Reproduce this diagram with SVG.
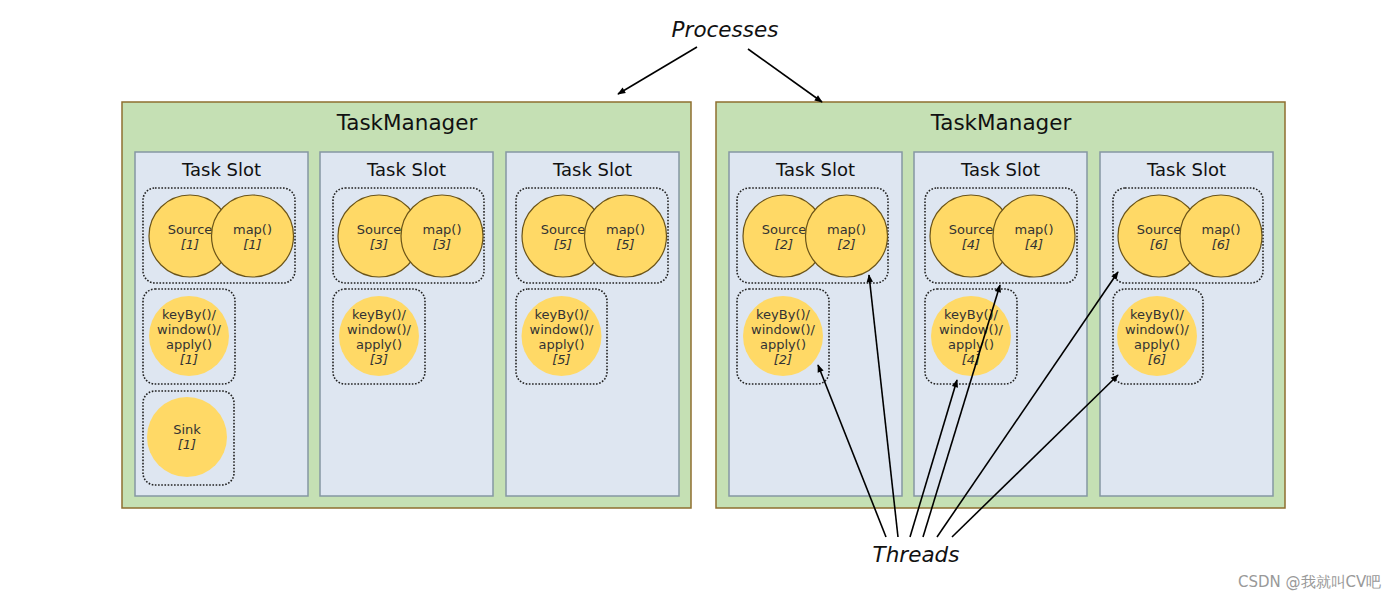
<svg xmlns="http://www.w3.org/2000/svg" width="1400" height="597" viewBox="0 0 1400 597">
<style>
.tm{fill:#C5E0B4;stroke:#8E6F2F;stroke-width:1.5}
.slot{fill:#DEE6F1;stroke:#8597A2;stroke-width:1.5}
.grp{fill:none;stroke:#222;stroke-width:1.6;stroke-dasharray:1.6 1.6}
.op{fill:#FFD966;stroke:#6B5418;stroke-width:1.2}
.opn{fill:#FFD966;stroke:none}
text{font-family:"DejaVu Sans",Verdana,sans-serif}
.t{font-size:13px;fill:#333;text-anchor:middle}
.i{font-style:italic}
.st{font-size:18px;fill:#111;text-anchor:middle}
.tmt{font-size:21.5px;fill:#111;text-anchor:middle}
.lbl{font-size:21.5px;font-style:italic;fill:#111;text-anchor:middle}
.arr{stroke:#000;stroke-width:1.6;fill:none;marker-end:url(#ah)}
</style>
<defs>
<marker id="ah" viewBox="0 0 10 10" refX="9" refY="5" markerWidth="9" markerHeight="8" markerUnits="userSpaceOnUse" orient="auto">
<path d="M0,1 L10,5 L0,9 z" fill="#000"/>
</marker>
</defs>
<rect width="1400" height="597" fill="#fff"/>

<g id="tm1">
<rect class="tm" x="122" y="102" width="569" height="406"/>
<text class="tmt" x="407" y="130">TaskManager</text>
</g>
<g id="tm2">
<rect class="tm" x="716" y="102" width="569" height="406"/>
<text class="tmt" x="1001" y="130">TaskManager</text>
</g>

<g id="slot1">
<rect class="slot" x="135" y="152" width="173" height="344"/>
<text class="st" x="221.5" y="176">Task Slot</text>
<rect class="grp" x="143" y="188" width="152" height="95" rx="12"/>
<circle class="op" cx="190" cy="236" r="41"/>
<text class="t" x="190" y="234">Source</text><text class="t i" x="190" y="249">[1]</text>
<circle class="op" cx="252.5" cy="236" r="41"/>
<text class="t" x="252.5" y="234">map()</text><text class="t i" x="252.5" y="249">[1]</text>
<rect class="grp" x="143" y="289" width="92" height="95" rx="12"/>
<circle class="opn" cx="189" cy="336" r="40"/>
<text class="t" x="189" y="319">keyBy()/</text><text class="t" x="189" y="334">window()/</text><text class="t" x="189" y="349">apply()</text><text class="t i" x="189" y="364">[1]</text>
<rect class="grp" x="143" y="391" width="91" height="94" rx="12"/>
<circle class="opn" cx="187" cy="437" r="40"/>
<text class="t" x="187" y="434">Sink</text><text class="t i" x="187" y="449">[1]</text>
</g>

<g id="slot2">
<rect class="slot" x="320" y="152" width="173" height="344"/>
<text class="st" x="406.5" y="176">Task Slot</text>
<rect class="grp" x="333" y="188" width="151" height="95" rx="12"/>
<circle class="op" cx="379" cy="236" r="41"/>
<text class="t" x="379" y="234">Source</text><text class="t i" x="379" y="249">[3]</text>
<circle class="op" cx="442" cy="236" r="41"/>
<text class="t" x="442" y="234">map()</text><text class="t i" x="442" y="249">[3]</text>
<rect class="grp" x="333" y="289" width="92" height="95" rx="12"/>
<circle class="opn" cx="379" cy="336" r="40"/>
<text class="t" x="379" y="319">keyBy()/</text><text class="t" x="379" y="334">window()/</text><text class="t" x="379" y="349">apply()</text><text class="t i" x="379" y="364">[3]</text>
</g>

<g id="slot3">
<rect class="slot" x="506" y="152" width="173" height="344"/>
<text class="st" x="592.5" y="176">Task Slot</text>
<rect class="grp" x="516" y="188" width="152" height="95" rx="12"/>
<circle class="op" cx="563" cy="236" r="41"/>
<text class="t" x="563" y="234">Source</text><text class="t i" x="563" y="249">[5]</text>
<circle class="op" cx="625.5" cy="236" r="41"/>
<text class="t" x="625.5" y="234">map()</text><text class="t i" x="625.5" y="249">[5]</text>
<rect class="grp" x="516" y="289" width="91" height="95" rx="12"/>
<circle class="opn" cx="561.5" cy="336" r="40"/>
<text class="t" x="561.5" y="319">keyBy()/</text><text class="t" x="561.5" y="334">window()/</text><text class="t" x="561.5" y="349">apply()</text><text class="t i" x="561.5" y="364">[5]</text>
</g>

<g id="slot4">
<rect class="slot" x="729" y="152" width="173" height="344"/>
<text class="st" x="815.5" y="176">Task Slot</text>
<rect class="grp" x="737" y="188" width="151" height="95" rx="12"/>
<circle class="op" cx="784" cy="236" r="41"/>
<text class="t" x="784" y="234">Source</text><text class="t i" x="784" y="249">[2]</text>
<circle class="op" cx="846.5" cy="236" r="41"/>
<text class="t" x="846.5" y="234">map()</text><text class="t i" x="846.5" y="249">[2]</text>
<rect class="grp" x="737" y="289" width="92" height="95" rx="12"/>
<circle class="opn" cx="783" cy="336" r="40"/>
<text class="t" x="783" y="319">keyBy()/</text><text class="t" x="783" y="334">window()/</text><text class="t" x="783" y="349">apply()</text><text class="t i" x="783" y="364">[2]</text>
</g>

<g id="slot5">
<rect class="slot" x="914" y="152" width="173" height="344"/>
<text class="st" x="1000.5" y="176">Task Slot</text>
<rect class="grp" x="925" y="188" width="152" height="95" rx="12"/>
<circle class="op" cx="971" cy="236" r="41"/>
<text class="t" x="971" y="234">Source</text><text class="t i" x="971" y="249">[4]</text>
<circle class="op" cx="1034" cy="236" r="41"/>
<text class="t" x="1034" y="234">map()</text><text class="t i" x="1034" y="249">[4]</text>
<rect class="grp" x="925" y="289" width="92" height="95" rx="12"/>
<circle class="opn" cx="971" cy="336" r="40"/>
<text class="t" x="971" y="319">keyBy()/</text><text class="t" x="971" y="334">window()/</text><text class="t" x="971" y="349">apply()</text><text class="t i" x="971" y="364">[4]</text>
</g>

<g id="slot6">
<rect class="slot" x="1100" y="152" width="173" height="344"/>
<text class="st" x="1186.5" y="176">Task Slot</text>
<rect class="grp" x="1113" y="188" width="150" height="95" rx="12"/>
<circle class="op" cx="1159" cy="236" r="41"/>
<text class="t" x="1159" y="234">Source</text><text class="t i" x="1159" y="249">[6]</text>
<circle class="op" cx="1221" cy="236" r="41"/>
<text class="t" x="1221" y="234">map()</text><text class="t i" x="1221" y="249">[6]</text>
<rect class="grp" x="1113" y="289" width="90" height="95" rx="12"/>
<circle class="opn" cx="1157" cy="336" r="40"/>
<text class="t" x="1157" y="319">keyBy()/</text><text class="t" x="1157" y="334">window()/</text><text class="t" x="1157" y="349">apply()</text><text class="t i" x="1157" y="364">[6]</text>
</g>

<g id="processes">
<text class="lbl" x="725" y="37">Processes</text>
</g>
<g id="threads">
<text class="lbl" x="916" y="562">Threads</text>
</g>

<g id="connectors">
<line class="arr" x1="697" y1="47" x2="618" y2="94"/>
<line class="arr" x1="748" y1="49" x2="822" y2="102"/>
<line class="arr" x1="886" y1="537" x2="818" y2="365"/>
<line class="arr" x1="898" y1="537" x2="869" y2="275"/>
<line class="arr" x1="910" y1="537" x2="957" y2="380"/>
<line class="arr" x1="923" y1="537" x2="1000" y2="285"/>
<line class="arr" x1="937" y1="537" x2="1118" y2="272"/>
<line class="arr" x1="952" y1="537" x2="1118" y2="375"/>
</g>

<text x="1238" y="587" font-size="15" fill="#999" font-family="'Liberation Sans','Noto Sans CJK SC',sans-serif">CSDN @我就叫CV吧</text>
</svg>
